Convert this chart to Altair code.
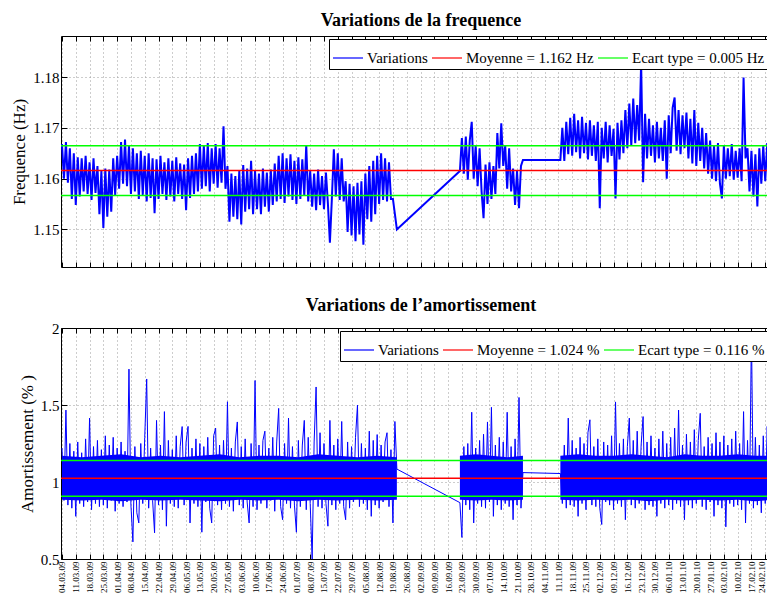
import altair as alt
import pandas as pd
from datetime import datetime, timezone

# ---------------- data ----------------
tick_labels = [
    "04.03.09", "11.03.09", "18.03.09", "25.03.09", "01.04.09", "08.04.09", "15.04.09",
    "22.04.09", "29.04.09", "06.05.09", "13.05.09", "20.05.09", "27.05.09", "03.06.09",
    "10.06.09", "17.06.09", "24.06.09", "01.07.09", "08.07.09", "15.07.09", "22.07.09",
    "29.07.09", "05.08.09", "12.08.09", "19.08.09", "26.08.09", "02.09.09", "09.09.09",
    "16.09.09", "23.09.09", "30.09.09", "07.10.09", "14.10.09", "21.10.09", "28.10.09",
    "04.11.09", "11.11.09", "18.11.09", "25.11.09", "02.12.09", "09.12.09", "16.12.09",
    "23.12.09", "30.12.09", "06.01.10", "13.01.10", "20.01.10", "27.01.10", "03.02.10",
    "10.02.10", "17.02.10", "24.02.10",
]

# first day of each recorded segment (one value per day afterwards)
segment_starts = ["04.03.09", "22.09.09", "12.11.09"]
# spacing (days) of the dense-core envelope points in each segment
core_steps = [10, 8, 9]
x_range = ["04.03.09", "04.03.10"]

freq_seg1 = [
    1.1668, 1.1600, 1.1672, 1.1592, 1.1660, 1.1560, 1.1650, 1.1548, 1.1642, 1.1565,
    1.1640, 1.1575, 1.1645, 1.1570, 1.1632, 1.1558, 1.1640, 1.1572, 1.1625, 1.1530,
    1.1615, 1.1503, 1.1620, 1.1525, 1.1618, 1.1535, 1.1640, 1.1568, 1.1645, 1.1580,
    1.1672, 1.1590, 1.1677, 1.1585, 1.1665, 1.1570, 1.1660, 1.1575, 1.1650, 1.1560,
    1.1655, 1.1568, 1.1645, 1.1555, 1.1650, 1.1562, 1.1640, 1.1532, 1.1638, 1.1560,
    1.1645, 1.1570, 1.1632, 1.1558, 1.1640, 1.1565, 1.1635, 1.1555, 1.1642, 1.1570,
    1.1630, 1.1560, 1.1628, 1.1538, 1.1640, 1.1562, 1.1645, 1.1570, 1.1650, 1.1575,
    1.1668, 1.1580, 1.1665, 1.1585, 1.1670, 1.1575, 1.1660, 1.1590, 1.1668, 1.1582,
    1.1660, 1.1592, 1.1703, 1.1580, 1.1625, 1.1515, 1.1610, 1.1525, 1.1605, 1.1520,
    1.1615, 1.1510, 1.1627, 1.1535, 1.1620, 1.1540, 1.1635, 1.1530, 1.1615, 1.1540,
    1.1610, 1.1530, 1.1620, 1.1545, 1.1612, 1.1535, 1.1618, 1.1548, 1.1630, 1.1555,
    1.1645, 1.1560, 1.1650, 1.1552, 1.1640, 1.1565, 1.1648, 1.1558, 1.1635, 1.1550,
    1.1642, 1.1560, 1.1638, 1.1566, 1.1666, 1.1555, 1.1615, 1.1545, 1.1610, 1.1538,
    1.1618, 1.1548, 1.1605, 1.1540, 1.1612, 1.1550, 1.1474, 1.1560, 1.1658, 1.1565,
    1.1650, 1.1558, 1.1640, 1.1555, 1.1595, 1.1495, 1.1590, 1.1488, 1.1585, 1.1477,
    1.1592, 1.1490, 1.1595, 1.1470, 1.1610, 1.1520, 1.1625, 1.1515, 1.1635, 1.1530,
    1.1645, 1.1550, 1.1650, 1.1558, 1.1640, 1.1555, 1.1632, 1.1560, 1.1560, 1.1530,
    1.1500,
]
freq_seg2 = [
    1.1615, 1.1680, 1.1610, 1.1683, 1.1598, 1.1675, 1.1712, 1.1600, 1.1665, 1.1585,
    1.1660, 1.1575, 1.1522, 1.1628, 1.1550, 1.1632, 1.1560, 1.1625, 1.1570, 1.1690,
    1.1620, 1.1709, 1.1625, 1.1665, 1.1580, 1.1660, 1.1575, 1.1620, 1.1548, 1.1615,
    1.1542, 1.1625, 1.1637,
]
freq_seg3 = [
    1.1637, 1.1700, 1.1635, 1.1712, 1.1648, 1.1720, 1.1645, 1.1728, 1.1652, 1.1715,
    1.1640, 1.1722, 1.1650, 1.1710, 1.1638, 1.1715, 1.1645, 1.1705, 1.1635, 1.1712,
    1.1542, 1.1700, 1.1640, 1.1712, 1.1632, 1.1705, 1.1645, 1.1698, 1.1561, 1.1710,
    1.1638, 1.1715, 1.1650, 1.1735, 1.1660, 1.1748, 1.1665, 1.1758, 1.1670, 1.1745,
    1.1675, 1.1828, 1.1593, 1.1728, 1.1640, 1.1718, 1.1645, 1.1705, 1.1632, 1.1712,
    1.1640, 1.1700, 1.1635, 1.1715, 1.1600, 1.1725, 1.1650, 1.1740, 1.1760, 1.1655,
    1.1735, 1.1648, 1.1725, 1.1660, 1.1730, 1.1640, 1.1718, 1.1630, 1.1735, 1.1625,
    1.1710, 1.1635, 1.1700, 1.1620, 1.1690, 1.1610, 1.1675, 1.1600, 1.1665, 1.1595,
    1.1670, 1.1590, 1.1561, 1.1665, 1.1600, 1.1660, 1.1605, 1.1668, 1.1598, 1.1655,
    1.1602, 1.1660, 1.1595, 1.1799, 1.1640, 1.1660, 1.1575, 1.1655, 1.1565, 1.1648,
    1.1545, 1.1660, 1.1590, 1.1665, 1.1595, 1.1670, 1.1600, 1.1662, 1.1605,
]

amort_seg1 = [
    1.22, 0.88, 1.467, 0.85, 1.25, 0.83, 1.20, 0.777, 1.26, 0.86,
    1.19, 0.84, 1.28, 0.87, 1.415, 0.82, 1.23, 0.86, 1.27, 0.84,
    1.21, 0.85, 1.30, 0.83, 1.24, 0.88, 1.29, 0.81, 1.22, 0.86,
    1.26, 0.84, 1.20, 0.87, 1.733, 0.85, 0.611, 1.23, 0.80, 0.734,
    1.25, 0.86, 1.29, 1.669, 0.83, 1.22, 0.88, 0.670, 1.40, 0.85,
    1.24, 0.82, 1.457, 0.713, 1.27, 0.86, 1.21, 0.84, 1.30, 0.83,
    1.23, 1.36, 0.85, 1.26, 1.361, 0.734, 1.22, 0.86, 1.28, 0.84,
    1.25, 0.674, 1.23, 0.87, 1.29, 0.83, 0.734, 1.30, 1.35, 0.85,
    1.24, 0.82, 1.27, 0.86, 1.521, 0.84, 1.22, 0.81, 1.26, 1.39,
    0.85, 1.23, 0.83, 1.28, 0.87, 0.734, 1.25, 0.84, 1.659, 0.82,
    1.24, 0.86, 1.27, 1.33, 0.83, 1.22, 0.88, 1.29, 0.81, 1.26,
    1.478, 0.84, 0.755, 1.25, 0.86, 1.415, 0.83, 1.23, 0.85, 0.674,
    1.27, 0.84, 1.24, 1.40, 0.82, 1.29, 0.86, 0.50, 1.26, 1.617,
    0.84, 1.32, 0.83, 1.25, 0.86, 0.713, 1.40, 0.85, 1.24, 0.82,
    1.28, 0.86, 1.393, 0.84, 0.755, 1.26, 0.83, 1.23, 0.87, 1.29,
    1.50, 0.84, 1.25, 0.86, 1.22, 0.82, 1.33, 0.777, 1.27, 0.85,
    1.308, 0.83, 1.24, 0.87, 1.26, 1.32, 0.84, 1.21, 0.734, 1.393,
    1.084,
]
amort_seg2 = [
    0.866, 0.64, 1.23, 0.85, 1.25, 0.82, 1.453, 0.734, 1.22, 0.86,
    1.27, 0.84, 1.31, 0.83, 1.39, 0.87, 1.485, 0.777, 1.24, 0.85,
    1.29, 0.82, 1.26, 0.86, 1.453, 0.84, 1.23, 0.755, 1.28, 0.85,
    1.549, 0.83, 1.061,
]
amort_seg3 = [
    1.055, 0.86, 1.24, 0.83, 1.415, 0.85, 1.27, 0.84, 1.22, 0.777,
    1.29, 0.86, 1.25, 0.82, 1.32, 1.404, 0.85, 1.23, 0.84, 1.28,
    0.83, 0.724, 1.26, 0.87, 1.24, 0.85, 1.30, 0.82, 1.52, 0.86,
    1.25, 0.84, 1.28, 0.755, 1.23, 1.415, 0.85, 1.27, 0.83, 1.33,
    0.86, 1.24, 1.425, 0.82, 1.26, 0.85, 1.30, 0.84, 1.22, 0.777,
    1.28, 0.86, 1.33, 0.83, 1.25, 0.85, 1.29, 0.82, 1.35, 0.86,
    1.467, 0.84, 1.24, 0.755, 1.31, 0.85, 1.26, 0.83, 1.34, 0.86,
    1.27, 1.446, 0.84, 1.23, 0.82, 1.29, 0.87, 1.25, 0.777, 1.32,
    0.85, 1.26, 0.83, 1.30, 0.709, 1.24, 0.86, 1.28, 0.84, 1.33,
    0.85, 1.25, 0.82, 1.457, 0.734, 1.27, 0.86, 1.98, 0.83, 1.29,
    0.85, 1.24, 0.80, 1.30, 0.86, 1.361, 0.84, 1.27, 0.85,
]
# solid core of the damping trace (low, high), one pair every core_steps days
amort_core_lo = [
    [0.885, 0.88, 0.885, 0.875, 0.885, 0.88, 0.885, 0.88, 0.875,
     0.885, 0.88, 0.885, 0.875, 0.885, 0.88, 0.885, 0.88, 0.885],
    [0.885, 0.88, 0.885, 0.88, 0.885],
    [0.885, 0.88, 0.885, 0.88, 0.885, 0.875, 0.885, 0.88, 0.885,
     0.88, 0.885, 0.875, 0.885],
]
amort_core_hi = [
    [1.17, 1.16, 1.17, 1.18, 1.16, 1.17, 1.16, 1.17, 1.18,
     1.16, 1.17, 1.17, 1.16, 1.18, 1.17, 1.16, 1.17, 1.16],
    [1.17, 1.18, 1.17, 1.16, 1.17],
    [1.17, 1.18, 1.17, 1.17, 1.18, 1.17, 1.16, 1.18, 1.17,
     1.17, 1.18, 1.17, 1.17],
]

freq_mean, freq_std = 1.1616, 0.0049
amort_mean, amort_std = 1.024, 0.116

freq_yticks = [1.15, 1.16, 1.17, 1.18]
freq_ydomain = [1.1426, 1.1881]
amort_yticks = [0.5, 1.0, 1.5, 2.0]
amort_ydomain = [0.5, 2.0]

# ---------------- helpers ----------------
DAY = 86400000
FONT = "Liberation Serif"
BLUE = "#0000ff"


def to_ms(s):
    return int(datetime.strptime(s, "%d.%m.%y").replace(tzinfo=timezone.utc).timestamp() * 1000)


tick_ms = [to_ms(s) for s in tick_labels]
x_scale = alt.Scale(type="utc", domain=[to_ms(x_range[0]) - DAY // 2, to_ms(x_range[1])])


def series_frame(segments, label):
    rows = []
    for start, vals in zip(segment_starts, segments):
        t0 = to_ms(start)
        for i, v in enumerate(vals):
            rows.append({"t": t0 + i * DAY, "v": v, "series": label})
    return pd.DataFrame(rows)


def core_frame(lows, highs):
    rows = []
    for k, (start, step, lo, hi) in enumerate(zip(segment_starts, core_steps, lows, highs)):
        t0 = to_ms(start)
        for i, (a, b) in enumerate(zip(lo, hi)):
            rows.append({"t": t0 + i * step * DAY, "lo": a, "hi": b, "seg": k})
    return pd.DataFrame(rows)


def panel(segments, core_lo, core_hi, mean, std, unit, ydomain, yticks, yfmt, ytitle,
          title, show_xlabels, legend_x, legend_y, line_width):
    lbl_var = "Variations"
    lbl_mean = f"Moyenne = {mean:.3f} {unit}"
    lbl_std = f"Ecart type = {std:.3f} {unit}"
    cscale = alt.Scale(domain=[lbl_var, lbl_mean, lbl_std],
                       range=[BLUE, "#ff0000", "#00ff00"])
    legend = alt.Legend(
        orient="none", legendX=legend_x, legendY=legend_y, direction="horizontal",
        title=None, symbolType="stroke", symbolSize=900, symbolStrokeWidth=1.2,
        labelFont=FONT, labelFontSize=15, labelColor="black", labelLimit=400,
        labelOffset=3, columnPadding=1, padding=3, strokeColor="black",
        fillColor="white", cornerRadius=0,
    )
    df = series_frame(segments, lbl_var)

    if show_xlabels:
        x_axis = alt.Axis(values=tick_ms, format="%d.%m.%y", labelAngle=270,
                          labelFontSize=9, labelPadding=7, labelOverlap=False,
                          labelFlush=False, tickSize={"expr": "-5"}, grid=True,
                          labelOffset={"condition": {"test": f"datum.value >= {tick_ms[-1]}",
                                                     "value": -4},
                                       "value": 0},
                          title=None)
    else:
        x_axis = alt.Axis(values=tick_ms, labels=False, tickSize={"expr": "-5"},
                          grid=True, title=None)
    y_axis = alt.Axis(values=yticks, format=yfmt, title=ytitle,
                      tickSize={"expr": "-6"}, labelPadding=8, grid=True)
    y_scale = alt.Scale(domain=ydomain, nice=False, zero=False)

    line = alt.Chart(df).mark_line(strokeWidth=line_width, clip=True).encode(
        x=alt.X("t:T", scale=x_scale, axis=x_axis),
        y=alt.Y("v:Q", scale=y_scale, axis=y_axis),
        color=alt.Color("series:N", scale=cscale, legend=legend),
    )
    data_layers = [line]
    if core_lo is not None:
        core = alt.Chart(core_frame(core_lo, core_hi)).mark_area(
            color=BLUE, opacity=1, clip=True
        ).encode(
            x=alt.X("t:T", scale=x_scale, axis=x_axis),
            y=alt.Y("lo:Q", scale=y_scale, axis=y_axis),
            y2="hi:Q",
            detail="seg:N",
        )
        data_layers.append(core)
    rules_df = pd.DataFrame({"v": [mean, mean + std, mean - std],
                             "series": [lbl_mean, lbl_std, lbl_std]})
    rules = alt.Chart(rules_df).mark_rule(strokeWidth=1.5).encode(
        y="v:Q",
        color=alt.Color("series:N", scale=cscale, legend=legend),
    )
    top_axis = alt.Chart(pd.DataFrame({"t": tick_ms})).mark_point(opacity=0).encode(
        x=alt.X("t:T", scale=x_scale,
                axis=alt.Axis(orient="top", values=tick_ms, labels=False, grid=False,
                              tickSize={"expr": "-5"}, title=None)),
    )
    data = alt.layer(*data_layers)  # shared x scale and axis
    return alt.layer(data, rules, top_axis).resolve_scale(x="independent").properties(
        width=720, height=231, title=title)


top_panel = panel([freq_seg1, freq_seg2, freq_seg3], None, None,
                  freq_mean, freq_std, "Hz", freq_ydomain, freq_yticks, ".2f",
                  "Frequence (Hz)", "Variations de la frequence", False, 268, 3, 2.0)
bottom_panel = panel([amort_seg1, amort_seg2, amort_seg3], amort_core_lo, amort_core_hi,
                     amort_mean, amort_std, "%", amort_ydomain, amort_yticks, "~g",
                     "Amortissement (% )", "Variations de l’amortissement", True, 279, 3, 1)

chart = alt.vconcat(top_panel, bottom_panel, spacing=29).resolve_scale(
    color="independent"
).properties(
    padding={"left": 2, "top": 3, "right": -15, "bottom": 0}
).configure_view(stroke=None).configure_axis(
    labelFont=FONT, labelFontSize=15, labelColor="black",
    titleFont=FONT, titleFontSize=17, titleFontWeight="normal", titleColor="black",
    domainColor="black", domainWidth=1, tickColor="black", tickWidth=1,
    gridColor="#9a9a9a", gridDash=[1, 3], gridWidth=1, titlePadding=4,
).configure_title(
    font=FONT, fontSize=18, fontWeight="bold", color="black", anchor="middle",
    offset=5.8,
)

chart.save("out.html", embed_options={"renderer": "svg", "actions": False})
